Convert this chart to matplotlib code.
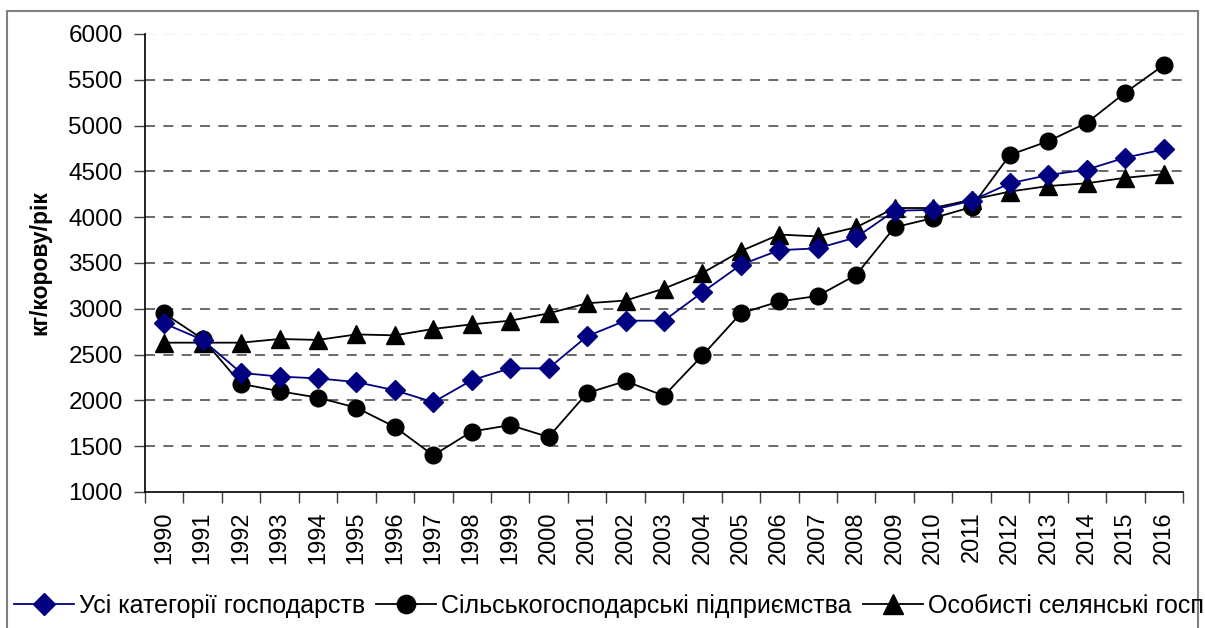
import matplotlib
matplotlib.use("Agg")
import matplotlib.pyplot as plt
from matplotlib.patches import Rectangle

years = [str(y) for y in range(1990, 2017)]
all_cat = [2840, 2660, 2300, 2260, 2240, 2200, 2110, 1980, 2220, 2350, 2350, 2700,
           2870, 2870, 3180, 3480, 3640, 3660, 3780, 4070, 4080, 4180, 4370, 4460,
           4520, 4650, 4740]
agri_ent = [2950, 2670, 2180, 2100, 2030, 1920, 1710, 1400, 1660, 1730, 1600, 2080,
            2210, 2050, 2490, 2950, 3080, 3140, 3370, 3890, 3990, 4110, 4680, 4830,
            5030, 5360, 5660]
households = [2630, 2630, 2630, 2670, 2660, 2720, 2710, 2780, 2830, 2870, 2950, 3060,
              3090, 3220, 3390, 3630, 3810, 3790, 3890, 4100, 4100, 4190, 4280, 4340,
              4370, 4430, 4470]
labels = ["Усі категорії господарств", "Сільськогосподарські підприємства",
          "Особисті селянські господарства"]
ylabel = "кг/корову/рік"

plt.rcParams['font.family'] = ['Liberation Sans', 'DejaVu Sans']

fig = plt.figure(figsize=(12.05, 6.28), dpi=100)
ax = fig.add_axes([0.1203, 0.2166, 0.8614, 0.7293])

x = list(range(len(years)))
ax.plot(x, all_cat, color='#000080', marker='D', markersize=10, lw=1.3,
        label=labels[0], zorder=4)
ax.plot(x, agri_ent, color='black', marker='o', markersize=12, lw=1.3,
        label=labels[1], zorder=3)
ax.plot(x, households, color='black', marker='^', markersize=13, lw=1.3,
        label=labels[2], zorder=3)

ax.set_xlim(-0.5, len(years) - 0.5)
ax.set_ylim(1000, 6000)
ax.set_yticks(range(1000, 6001, 500))
ax.set_xticks(x)
ax.set_xticklabels(years, rotation=90, fontsize=17)
ax.set_xticks([i - 0.5 for i in range(len(years) + 1)], minor=True)
ax.tick_params(axis='x', which='major', length=0, pad=14)
ax.tick_params(axis='x', which='minor', length=8, width=1, color='#404040')
ax.tick_params(axis='y', length=8, width=1, labelsize=17.5, color='#404040', pad=8)

for v in range(1500, 6001, 500):
    ax.axhline(v, color='#f0f0f0' if v == 6000 else '#505050', lw=1.2,
               dashes=(6, 5), zorder=1)

for s in ['top', 'right']:
    ax.spines[s].set_visible(False)
for s in ['left', 'bottom']:
    ax.spines[s].set_color('black')
    ax.spines[s].set_linewidth(1.2)

ax.set_ylabel(ylabel, fontsize=16.5, fontweight='bold', labelpad=12)

fig.legend(loc='lower left', bbox_to_anchor=(-0.007, -0.02), ncol=3, frameon=False,
           fontsize=18, handlelength=2.4, handletextpad=0.2, columnspacing=0.45,
           borderaxespad=0.5, markerscale=1.1)

fig.patches.append(Rectangle((7 / 1205, -0.05), (1198 - 7) / 1205, 1.05 - 11 / 628,
                             transform=fig.transFigure, fill=False,
                             edgecolor='#808080', lw=1.5, zorder=0))

fig.savefig('out.png', dpi=100)
